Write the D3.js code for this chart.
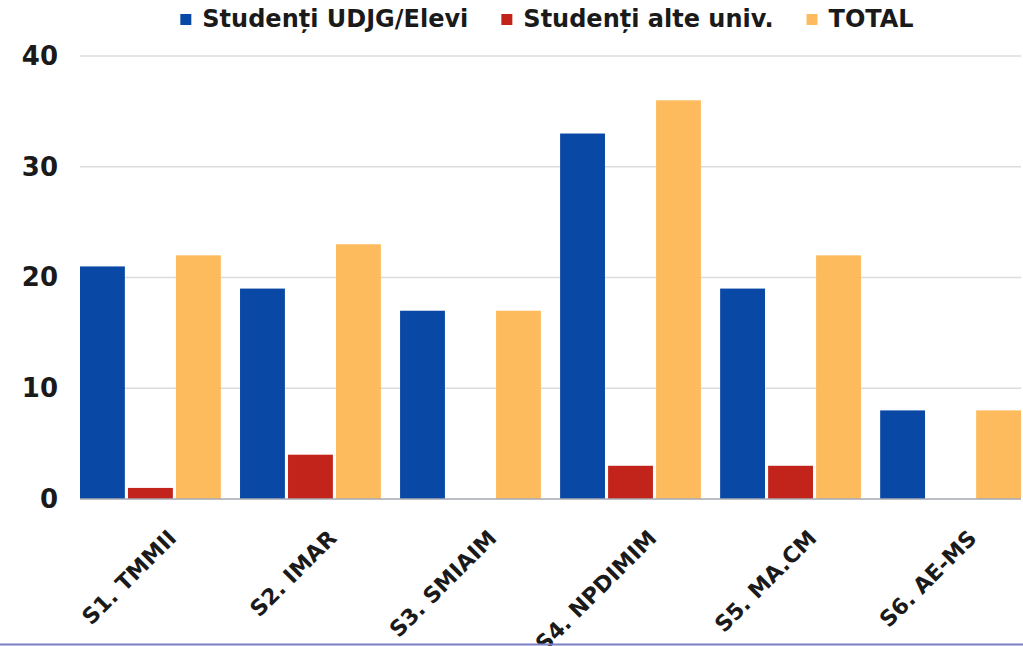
<!DOCTYPE html>
<html>
<head>
<meta charset="utf-8">
<script src="https://cdn.jsdelivr.net/npm/d3@7"></script>
<style>
  body { margin: 0; background: #fff; }
  svg { display: block; }
</style>
</head>
<body>
<div id="chart"></div>
<script>
var categories = ["S1. TMMII", "S2. IMAR", "S3. SMIAIM", "S4. NPDIMIM", "S5. MA.CM", "S6. AE-MS"];
var seriesNames = ["Studenți UDJG/Elevi", "Studenți alte univ.", "TOTAL"];
var udjg = [21, 19, 17, 33, 19, 8];
var alteUniv = [1, 4, 0, 3, 3, 0];
var total = [22, 23, 17, 36, 22, 8];
var yTicks = [0, 10, 20, 30, 40];
var colors = ["#0a48a6", "#c2231b", "#fdbb5d"];

var seriesValues = [udjg, alteUniv, total];
var data = categories.map(function(c, i) {
  return { cat: c, values: seriesValues.map(function(s, j) { return { key: seriesNames[j], value: s[i] }; }) };
});

var W = 1023, H = 646;
var margin = {top: 56, right: 2, bottom: 147, left: 80};
var width = W - margin.left - margin.right,
    height = H - margin.top - margin.bottom;

var svg = d3.select("#chart")
  .append("svg")
    .attr("width", W)
    .attr("height", H);

var g = svg.append("g")
    .attr("transform", "translate(" + margin.left + "," + margin.top + ")");

var x0 = d3.scaleBand()
  .domain(categories)
  .range([0, 941])
  .paddingInner(0.12)
  .paddingOuter(0);

var x1 = d3.scaleBand()
  .domain(seriesNames)
  .range([0, x0.bandwidth()])
  .paddingInner(0.065);

var y = d3.scaleLinear()
  .domain([0, 40])
  .range([height, 0]);

// gridlines
g.append("g")
  .selectAll("line")
  .data(yTicks.filter(function(d) { return d > 0; }))
  .join("line")
    .attr("x1", 0)
    .attr("x2", width)
    .attr("y1", function(d) { return y(d); })
    .attr("y2", function(d) { return y(d); })
    .attr("stroke", "#dcdcdc")
    .attr("stroke-width", 1.5);

// y labels
var yAxis = g.append("g")
  .call(d3.axisLeft(y).tickValues(yTicks).tickSize(0).tickPadding(22).tickFormat(d3.format("d")));
yAxis.select(".domain").remove();
yAxis.selectAll("text")
  .attr("font-family", "DejaVu Sans")
  .attr("font-weight", "bold")
  .attr("font-size", 26)
  .attr("fill", "#1a1a1a");

// bars
g.append("g")
  .selectAll("g")
  .data(data)
  .join("g")
    .attr("transform", function(d) { return "translate(" + x0(d.cat) + ",0)"; })
  .selectAll("rect")
  .data(function(d) { return d.values; })
  .join("rect")
    .attr("x", function(d) { return x1(d.key); })
    .attr("y", function(d) { return y(d.value); })
    .attr("width", x1.bandwidth())
    .attr("height", function(d) { return height - y(d.value); })
    .attr("fill", function(d, i) { return colors[i]; });

// baseline
g.append("line")
  .attr("x1", 0)
  .attr("x2", width)
  .attr("y1", height)
  .attr("y2", height)
  .attr("stroke", "#a4a8b0")
  .attr("stroke-width", 1.5);

// x labels
var xAxis = g.append("g")
  .attr("transform", "translate(0," + height + ")")
  .call(d3.axisBottom(x0).tickSize(0));
xAxis.select(".domain").remove();
xAxis.selectAll("text")
  .attr("font-family", "DejaVu Sans")
  .attr("font-weight", "bold")
  .attr("font-size", 22)
  .attr("fill", "#1a1a1a")
  .attr("text-anchor", "end")
  .attr("dy", "0.35em")
  .attr("y", 0)
  .attr("transform", "translate(22,35) rotate(-45)");

// legend, laid out from text widths and centred over the chart
var legend = svg.append("g");
var lx = 0, gap = 33;
seriesNames.forEach(function(name, i) {
  var item = legend.append("g").attr("transform", "translate(" + lx + ",0)");
  item.append("rect")
    .attr("x", 0)
    .attr("y", 14)
    .attr("width", 11)
    .attr("height", 11)
    .attr("fill", colors[i]);
  var t = item.append("text")
    .attr("x", 22)
    .attr("y", 27)
    .attr("font-family", "DejaVu Sans")
    .attr("font-weight", "bold")
    .attr("font-size", 24)
    .attr("fill", "#1a1a1a")
    .text(name);
  lx += 22 + t.node().getComputedTextLength() + gap;
});
legend.attr("transform", "translate(" + (547 - (lx - gap) / 2) + ",0)");

// bottom frame line
svg.append("line")
  .attr("x1", 0)
  .attr("x2", W)
  .attr("y1", H - 1.5)
  .attr("y2", H - 1.5)
  .attr("stroke", "#7b7fc4")
  .attr("stroke-width", 2);
</script>
</body>
</html>
